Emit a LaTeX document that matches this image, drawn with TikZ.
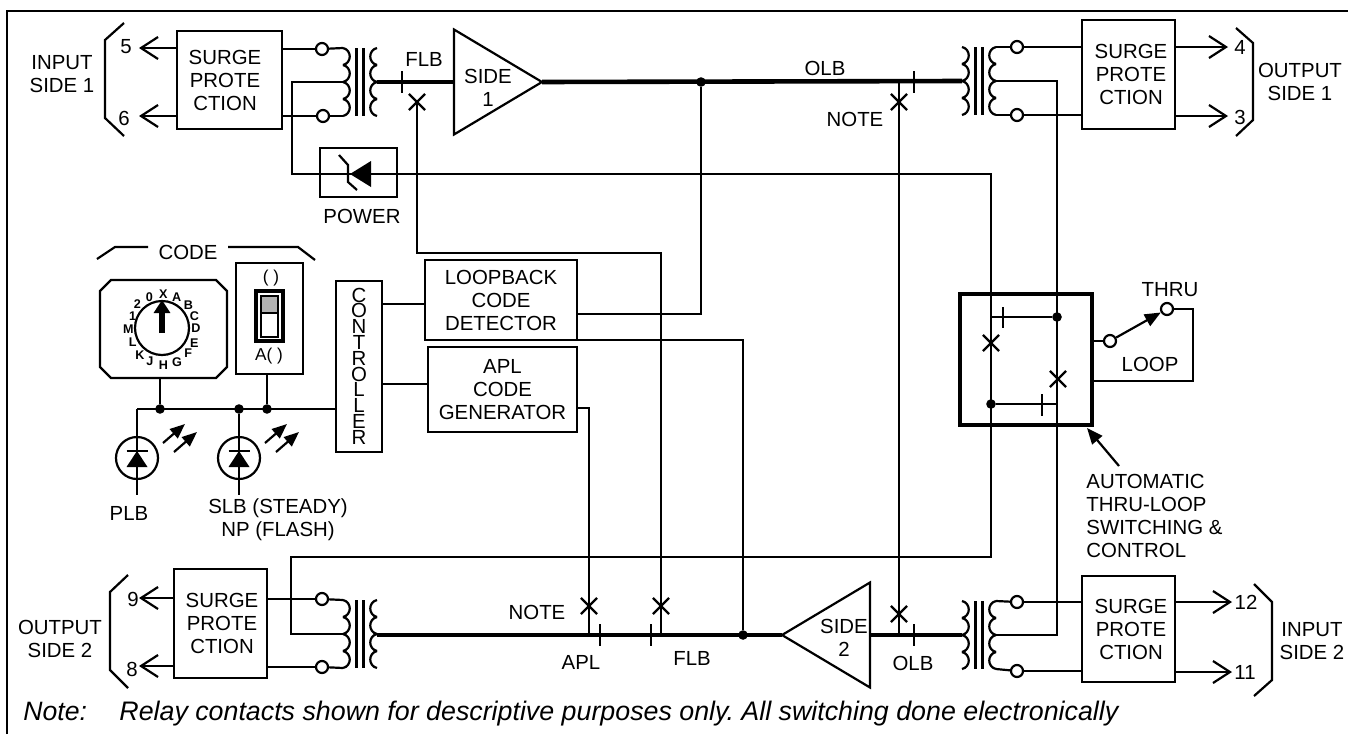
\documentclass[tikz,border=0pt]{standalone}
\usepackage{fontspec}
\setmainfont{Liberation Sans}
\usepackage{tikz}
\usetikzlibrary{arrows.meta, shapes.geometric, shapes.misc, calc}
\frenchspacing
\newcommand{\lblfont}{\fontsize{10.2}{11.5}\selectfont}
\tikzset{
  wire/.style    = {line width=1.1pt},
  busline/.style = {line width=2.3pt},
  box/.style     = {rectangle, draw, line width=1.1pt, inner sep=0pt, outer sep=0pt,
                    align=center, font=\lblfont},
  lbl/.style     = {inner sep=0pt, align=center, font=\lblfont},
  term/.style    = {circle, draw, fill=white, line width=1.1pt, inner sep=0pt, minimum size=6pt},
  jdot/.style    = {circle, fill=black, inner sep=0pt, minimum size=4.8pt},
  xmark/.style   = {cross out, draw, line width=1.1pt, inner sep=0pt, minimum size=7pt},
  amp/.style     = {isosceles triangle, isosceles triangle stretches, draw, line width=1.1pt,
                    inner sep=0pt, outer sep=0pt, minimum width=52.5pt, minimum height=44pt},
  outarr/.style  = {-{Straight Barb[length=8.5pt,width=11pt]}, line width=1.1pt},
  ptarr/.style   = {-{Triangle[length=7.5pt,width=6pt]}, line width=1.1pt},
  dial/.style    = {inner sep=0pt, font=\fontsize{6.3}{6.5}\selectfont\bfseries},
  xfmr/.pic = {
    \foreach \k in {-34,-17,0,17} {
      \draw[wire] (-17,\k) .. controls (-8,\k+2) and (-8,\k+15) .. (-17,\k+17);
      \draw[wire] (17,\k) .. controls (8,\k+2) and (8,\k+15) .. (17,\k+17);
    }
    \draw[wire] (-3.5,-34) -- (-3.5,34);
    \draw[wire] (3.5,-34) -- (3.5,34);
    \coordinate (-lt) at (-17,-34);
    \coordinate (-lm) at (-17,0);
    \coordinate (-lb) at (-17,34);
    \coordinate (-rt) at (17,-34);
    \coordinate (-rm) at (17,0);
    \coordinate (-rb) at (17,34);
  },
  ledmark/.pic = {
    \fill (-10.5,9) -- (10.5,9) -- (0,-7) -- cycle;
    \draw[wire] (-10.5,-7) -- (10.5,-7);
    \draw[ptarr] (26,-15) -- (48,-34);
    \draw[ptarr] (37,-6) -- (60,-26);
  },
}
\begin{document}
\begin{tikzpicture}[x=0.5pt, y=-0.5pt]
  \useasboundingbox (0,0) rectangle (1348,734);
  \draw[wire] (7,734) -- (7,11) -- (1348,11);

  \node[box, minimum width=52.5pt, minimum height=49pt] (surgeTL) at (229.5,80) {SURGE\kern4.5pt\\PROTE\kern4.5pt\\CTION\kern4.5pt};
  \node[box, minimum width=46.5pt, minimum height=54.5pt] (surgeTR) at (1128.5,74.5) {\kern2.5pt SURGE\\\kern2.5pt PROTE\\\kern2.5pt CTION};
  \node[box, minimum width=46.5pt, minimum height=54.5pt] (surgeBL) at (220.5,623.5) {\kern1.5pt SURGE\\\kern1.5pt PROTE\\\kern1.5pt CTION};
  \node[box, minimum width=46.5pt, minimum height=53pt] (surgeBR) at (1128.5,629) {\kern2.5pt SURGE\\\kern2.5pt PROTE\\\kern2.5pt CTION};

  \pic (xfTL) at (360,82) {xfmr};
  \pic (xfTR) at (979,81) {xfmr};
  \pic (xfBL) at (360,634) {xfmr};
  \pic (xfBR) at (979,635) {xfmr};

  \node[term] (tTLa) at (322,49) {};
  \node[term] (tTLb) at (323,116) {};
  \node[term] (tTRa) at (1017,47) {};
  \node[term] (tTRb) at (1017,115) {};
  \node[term] (tBLa) at (322,599) {};
  \node[term] (tBLb) at (322,667) {};
  \node[term] (tBRa) at (1017,602) {};
  \node[term] (tBRb) at (1017,671) {};

  \draw[wire] (xfTL-lt) -- (tTLa);
  \draw[wire] (xfTL-lb) -- (tTLb);
  \draw[wire] (xfTR-rt) -- (tTRa);
  \draw[wire] (xfTR-rb) -- (tTRb);
  \draw[wire] (xfBL-lt) -- (tBLa);
  \draw[wire] (xfBL-lb) -- (tBLb);
  \draw[wire] (xfBR-rt) -- (tBRa);
  \draw[wire] (xfBR-rb) -- (tBRb);
  \draw[wire] (tTLa) -- (surgeTL.east |- tTLa);
  \draw[wire] (tTLb) -- (surgeTL.east |- tTLb);
  \draw[wire] (tTRa) -- (surgeTR.west |- tTRa);
  \draw[wire] (tTRb) -- (surgeTR.west |- tTRb);
  \draw[wire] (tBLa) -- (surgeBL.east |- tBLa);
  \draw[wire] (tBLb) -- (surgeBL.east |- tBLb);
  \draw[wire] (tBRa) -- (surgeBR.west |- tBRa);
  \draw[wire] (tBRb) -- (surgeBR.west |- tBRb);

  \coordinate (pin5) at (139,48);
  \coordinate (pin6) at (139,116);
  \coordinate (pin4) at (1228,47);
  \coordinate (pin3) at (1228,116);
  \coordinate (pin9) at (139,598);
  \coordinate (pin8) at (139,666);
  \coordinate (pin12) at (1232,602);
  \coordinate (pin11) at (1232,672);
  \draw[outarr] (surgeTL.west |- pin5) -- (pin5);
  \draw[outarr] (surgeTL.west |- pin6) -- (pin6);
  \draw[outarr] (surgeTR.east |- pin4) -- (pin4);
  \draw[outarr] (surgeTR.east |- pin3) -- (pin3);
  \draw[outarr] (surgeBL.west |- pin9) -- (pin9);
  \draw[outarr] (surgeBL.west |- pin8) -- (pin8);
  \draw[outarr] (surgeBR.east |- pin12) -- (pin12);
  \draw[outarr] (surgeBR.east |- pin11) -- (pin11);

  \node[lbl] (n5) at (126,47) {5};
  \node[lbl] (n6) at (124,118) {6};
  \node[lbl] (n4) at (1240,47) {4};
  \node[lbl] (n3) at (1240,117) {3};
  \node[lbl] (n9) at (133,599) {9};
  \node[lbl] (n8) at (132,669) {8};
  \node[lbl] (n12) at (1246,602) {12};
  \node[lbl] (n11) at (1245,672) {11};

  \draw[wire] (124,23) -- (105,40) -- (105,118) -- (124,136);
  \draw[wire] (1236,28) -- (1253,43) -- (1253,120) -- (1236,136);
  \draw[wire] (128,575) -- (110,592) -- (110,670) -- (128,688);
  \draw[wire] (1254,584) -- (1272,602) -- (1272,680) -- (1254,696);
  \node[lbl] (inA) at (62,74) {INPUT\\SIDE 1};
  \node[lbl] (outA) at (1300,82) {OUTPUT\\SIDE 1};
  \node[lbl] (outB) at (60,639) {OUTPUT\\SIDE 2};
  \node[lbl] (inB) at (1312,641) {INPUT\\SIDE 2};

  \node[amp, anchor=apex] (ampT) at (542,82) {};
  \node[amp, anchor=apex, shape border rotate=180] (ampB) at (782,635) {};
  \node[lbl] (ampTtext) at (488,88) {SIDE\\1};
  \node[lbl] (ampBtext) at (844,638) {SIDE\\2};

  \draw[busline] (xfTL-rm) -- (ampT.lower side);
  \draw[busline] (ampT.apex) -- (xfTR-lm);
  \draw[busline] (xfBL-rm |- ampB.apex) -- (ampB.apex);
  \draw[busline] (ampB.lower side) -- (xfBR-lm);

  \foreach \tx/\ty in {402/82, 914/82, 600/635, 651/635, 914/635} {
    \draw[wire] (\tx,\ty-11) -- (\tx,\ty+11);
  }
  \node[lbl] (flbT) at (424,59) {FLB};
  \node[lbl] (olbT) at (825,68) {OLB};
  \node[lbl] (noteT) at (855,119) {NOTE};
  \node[lbl] (noteB) at (537,612) {NOTE};
  \node[lbl] (aplB) at (581,662) {APL};
  \node[lbl] (flbB) at (692,658) {FLB};
  \node[lbl] (olbB) at (913,663) {OLB};

  \node[box, minimum width=38.5pt, minimum height=24.5pt] (powerbox) at (358.5,172.5) {};
  \node[lbl] (powertext) at (362,216) {POWER};

  \coordinate (tapA) at (292,82);
  \coordinate (tapB) at (292,174);
  \coordinate (tapC) at (991,174);
  \coordinate (tapD) at (991,557);
  \coordinate (tapE) at (291,557);
  \coordinate (tapF) at (291,634);
  \draw[wire] (xfTL-lm) -- (tapA) -- (tapB) -- (tapC) -- (tapD) -- (tapE) -- (tapF) -- (xfBL-lm);
  \fill (371,161) -- (371,187) -- (350,174) -- cycle;
  \draw[wire] (339,155) -- (348,165) -- (348,182) -- (357,190);

  \coordinate (tapG) at (1057,81);
  \coordinate (tapH) at (1057,635);
  \draw[wire] (xfTR-rm) -- (tapG) -- (tapH) -- (xfBR-rm);

  \node[box, minimum width=76pt, minimum height=40pt] (detector) at (501,300) {LOOPBACK\\CODE\\DETECTOR};
  \node[box, minimum width=74.5pt, minimum height=42.5pt] (generator) at (502.5,389.5) {APL\\CODE\\GENERATOR};
  \node[box, minimum width=23pt, minimum height=85.5pt] (ctrl) at (359,366.5) {};
  \foreach \ch [count=\k from 0] in {C,O,N,T,R,O,L,L,E,R} {
    \node[lbl] (ctrl\k) at (359,295+15.8*\k) {\ch};
  }

  \node[jdot] (jOlb) at (701,82) {};
  \node[jdot] (jDet) at (743,635) {};
  \coordinate (cornerOlb) at (701,314);
  \coordinate (cornerDet) at (743,340);
  \coordinate (cornerGen) at (589,408);
  \draw[wire] (detector.east |- cornerOlb) -- (cornerOlb) -- (jOlb);
  \draw[wire] (detector.east |- cornerDet) -- (cornerDet) -- (jDet);
  \draw[wire] (generator.east |- cornerGen) -- (cornerGen) -- (cornerGen |- jDet);
  \draw[wire] (ctrl.east |- 0,304) -- (detector.west |- 0,304);
  \draw[wire] (ctrl.east |- 0,384) -- (generator.west |- 0,384);

  \node[xmark] (xFlbT) at (417,102) {};
  \node[xmark] (xOlbT) at (899,102) {};
  \node[xmark] (xAplB) at (589,606) {};
  \node[xmark] (xFlbB) at (661,606) {};
  \node[xmark] (xOlbB) at (899,614) {};
  \coordinate (flbC) at (417,253);
  \coordinate (flbD) at (661,253);
  \coordinate (flbE) at (661,635);
  \coordinate (olbA) at (899,82);
  \coordinate (olbB) at (899,635);
  \draw[wire] (xFlbT.center) -- (flbC) -- (flbD) -- (flbE);
  \draw[wire] (olbA) -- (olbB);

  \draw[wire] (111,280) -- (216,280) -- (227,291) -- (227,367) -- (216,378) -- (111,378) -- (100,367) -- (100,291) -- cycle;
  \coordinate (rotarysouth) at (160,378);
  \node[circle, draw, line width=1.1pt, inner sep=0pt, minimum size=27pt] (rotaryknob) at (162,328) {};
  \coordinate (rotaryfoot) at (162,333);
  \coordinate (rotarytip) at (162,300);
  \draw[line width=2.8pt, -{Triangle[length=6.5pt,width=8pt]}] (rotaryfoot) -- (rotarytip);
  \foreach \ch/\cx/\cy [count=\k] in {0/163/65, X/205/57, A/245/65, B/280/90, C/298/122, D/303/158,
      E/298/203, F/280/233, G/246/262, H/205/270, J/165/258, K/135/240, L/113/200, M/100/163, 1/113/122, 2/127/88} {
    \node[dial] (dial\k) at (95+\cx/3,275+\cy/3) {\ch};
  }
  \node[lbl] (codetext) at (188,252) {CODE};
  \draw[wire] (97,259) -- (115,247) -- (148,247);
  \draw[wire] (228,247) -- (298,247) -- (315,260);

  \node[box, minimum width=33.5pt, minimum height=55.5pt] (switchbox) at (269.5,318.5) {};
  \node[lbl, font=\fontsize{8.6}{10}\selectfont] (switchtop) at (271,278) {( )};
  \node[lbl, font=\fontsize{8.6}{10}\selectfont] (switchbot) at (269,356) {A( )};
  \node[box, minimum width=13.5pt, minimum height=25pt, line width=1.6pt] (switchbody) at (269.5,316) {};
  \node[box, minimum width=8.5pt, minimum height=8.5pt, fill=gray!60, line width=.8pt] (switchgrey) at (269.5,304.5) {};
  \node[box, minimum width=8.5pt, minimum height=12pt, line width=.8pt] (switchwhite) at (269.5,325) {};

  \coordinate (cornerPlb) at (137,409);
  \node[jdot] (jRot) at (160,409) {};
  \node[jdot] (jSlb) at (239,409) {};
  \node[jdot] (jSw) at (267,409) {};
  \draw[wire] (cornerPlb) -- (ctrl.west |- cornerPlb);
  \draw[wire] (jRot) -- (rotarysouth);
  \draw[wire] (jSw) -- (jSw |- switchbox.south);
  \node[circle, draw, line width=1.1pt, inner sep=0pt, minimum size=21pt] (ledPlb) at (137,458) {};
  \node[circle, draw, line width=1.1pt, inner sep=0pt, minimum size=21pt] (ledSlb) at (239,458) {};
  \coordinate (leadPlb) at (137,495);
  \coordinate (leadSlb) at (239,495);
  \draw[wire] (cornerPlb) -- (leadPlb);
  \draw[wire] (jSlb) -- (leadSlb);
  \pic at (ledPlb.center) {ledmark};
  \pic at (ledSlb.center) {ledmark};
  \node[lbl] (plbtext) at (129,513) {PLB};
  \node[lbl] (slbtext) at (278,520) {SLB (STEADY)\\NP (FLASH)};

  \node[box, line width=1.9pt, minimum width=66pt, minimum height=65.5pt] (thruloop) at (1026,359.5) {};
  \node[jdot] (jLoopA) at (1057,317) {};
  \node[jdot] (jLoopB) at (991,404) {};
  \draw[wire] (tapC |- jLoopA) -- (jLoopA);
  \draw[wire] (jLoopB) -- (tapG |- jLoopB);
  \draw[wire] (1003,307) -- (1003,328);
  \draw[wire] (1042,394) -- (1042,416);
  \node[xmark] (xLoopA) at (991,343) {};
  \node[xmark] (xLoopB) at (1058,379) {};

  \node[term] (tSwA) at (1110,341) {};
  \node[term] (tSwB) at (1167,309) {};
  \coordinate (cornerSwA) at (1193,309);
  \coordinate (cornerSwB) at (1193,381);
  \draw[wire] (thruloop.east |- tSwA) -- (tSwA);
  \draw[wire] (tSwB) -- (cornerSwA) -- (cornerSwB) -- (thruloop.east |- cornerSwB);
  \draw[wire, -{Triangle[length=8pt,width=6.5pt]}] (tSwA) -- (tSwB);
  \node[lbl] (thrutext) at (1170,290) {THRU};
  \node[lbl] (looptext) at (1150,364) {LOOP};

  \coordinate (arrowfoot) at (1119,466);
  \coordinate (arrowtip) at (1087,428);
  \draw[wire, -{Triangle[length=8pt,width=6.5pt]}] (arrowfoot) -- (arrowtip);
  \node[lbl, align=left, anchor=north west] (autotext) at (1086,474) {AUTOMATIC\\THRU-LOOP\\SWITCHING \&\\CONTROL};

  \node[anchor=base west, inner sep=0pt, font=\fontsize{13.3}{15}\selectfont\itshape] (notekey) at (23,720) {Note:};
  \node[anchor=base west, inner sep=0pt, font=\fontsize{13.4}{15}\selectfont\itshape] (notebody) at (119,720)
       {Relay contacts shown for descriptive purposes only. All switching done electronically};
\end{tikzpicture}
\end{document}
